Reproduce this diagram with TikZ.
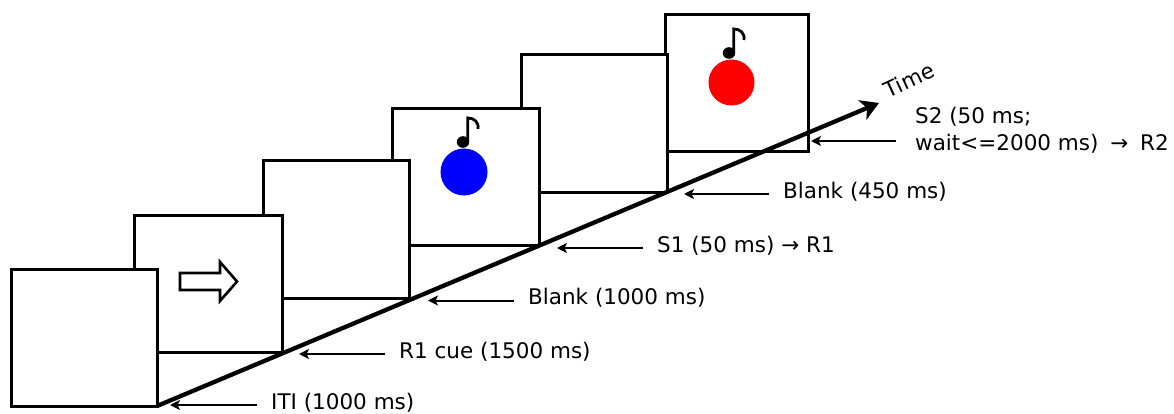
\documentclass[tikz,border=0pt]{standalone}
\usepackage{fontspec}
\setmainfont{DejaVu Sans}
\usetikzlibrary{arrows.meta}
\tikzset{
  x=1pt,y=-1pt,
  screen/.style={draw=black,fill=white,line width=3pt,minimum width=146pt,minimum height=137pt,inner sep=0pt,outer sep=0pt,anchor=north west},
  lab/.style={anchor=west,inner sep=0pt,inner xsep=14pt,font=\fontsize{21.5}{27}\selectfont,align=left,text=black},
  tick/.style={draw=black,line width=2pt,-{Stealth[length=10pt,width=10pt,inset=2.5pt]}},
  timeline/.style={draw=black,line width=4.3pt,-{Stealth[length=18pt,width=21pt,inset=5pt]}},
  tone/.style={draw=black,line width=2.8pt},
}
\newcommand{\quaver}[2]{%
  \fill[black] (#1,#2) ellipse [x radius=6.2pt,y radius=5.8pt];
  \draw[tone] (#1+4.8,#2) -- (#1+4.8,#2-24) .. controls (#1+11,#2-24) and (#1+16,#2-20) .. (#1+15,#2-13);
}
\begin{document}
\begin{tikzpicture}
\useasboundingbox (0,0) rectangle (1174,414);
\fill[white] (0,0) rectangle (1174,414);
% screens, last one lowest
\node[screen,minimum width=143pt] (s6) at (665,15) {};
\node[screen] (s5) at (521,55) {};
\node[screen,minimum width=147pt] (s4) at (392,108.5) {};
\node[screen] (s3) at (263.5,161) {};
\node[screen,minimum width=147.5pt] (s2) at (134.5,215) {};
\node[screen] (s1) at (11,269) {};
% cue arrow
\draw[draw=black,fill=white,line width=2.6pt,line join=miter] (180,273) -- (220,273) -- (220,262) -- (237,281.5) -- (220,301) -- (220,290) -- (180,290) -- cycle;
% stimuli
\node[circle,fill=blue,draw=none,minimum size=47pt,inner sep=0pt] (blue) at (464,172) {};
\node[circle,fill=red,draw=none,minimum size=46pt,inner sep=0pt] (red) at (731.5,82.5) {};
\quaver{463}{142}
\quaver{729}{53}
% time axis
\coordinate (tend) at (879,103);
\draw[timeline] (s1.south east) -- (tend);
\node[rotate=25,font=\fontsize{21.5}{26}\selectfont,inner sep=0pt] (time) at (909,80) {Time};
% labels
\node[lab] (l1) at (257,403) {ITI (1000 ms)};
\node[lab] (l2) at (385,352) {R1 cue (1500 ms)};
\node[lab] (l3) at (514,298) {Blank (1000 ms)};
\node[lab] (l4) at (643,246) {S1 (50 ms) → R1};
\node[lab] (l5) at (769,192) {Blank (450 ms)};
\node[lab] (l6) at (901,130) {S2 (50 ms;\\wait<=2000 ms)\hspace{5pt} → \hspace{5pt}R2};
\coordinate (t1) at (170,405);
\coordinate (t2) at (299,354);
\coordinate (t3) at (428,300.5);
\coordinate (t4) at (557,248);
\coordinate (t5) at (684,194);
\coordinate (t6) at (811,141);
\coordinate (f1) at (257,405);
\coordinate (f2) at (385,354);
\coordinate (f3) at (514,300.5);
\coordinate (f4) at (643,248);
\coordinate (f5) at (769,194);
\coordinate (f6) at (896,141);
\draw[tick] (f1) -- (t1);
\draw[tick] (f2) -- (t2);
\draw[tick] (f3) -- (t3);
\draw[tick] (f4) -- (t4);
\draw[tick] (f5) -- (t5);
\draw[tick] (f6) -- (t6);
\end{tikzpicture}
\end{document}
